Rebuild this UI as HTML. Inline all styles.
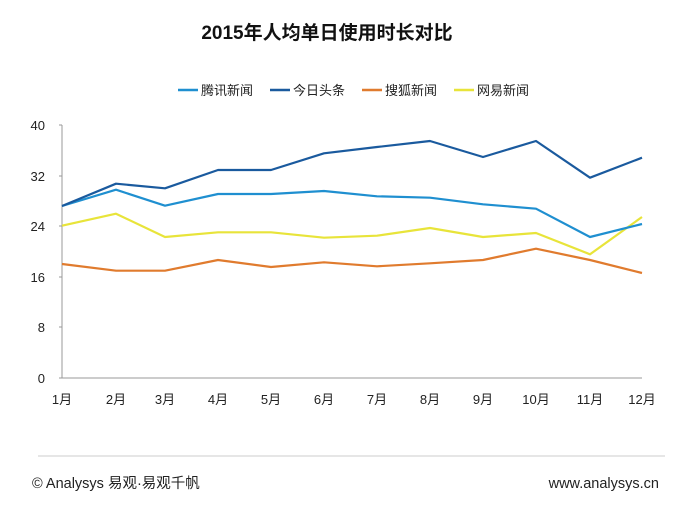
<!DOCTYPE html>
<html><head><meta charset="utf-8"><style>
body{margin:0;background:#fff;}
svg text{font-family:"Liberation Sans","Noto Sans CJK SC",sans-serif;}
</style></head><body>
<svg width="700" height="525" viewBox="0 0 700 525" xmlns="http://www.w3.org/2000/svg">
<rect width="700" height="525" fill="#fff"/>
<text x="327" y="39" text-anchor="middle" font-size="19" font-weight="bold" fill="#111">2015年人均单日使用时长对比</text>
<g font-size="13" fill="#222">
<line x1="178" y1="90" x2="198" y2="90" stroke="#1f8fd0" stroke-width="2.5"/><text x="201" y="95">腾讯新闻</text>
<line x1="270" y1="90" x2="290" y2="90" stroke="#1a5a9e" stroke-width="2.5"/><text x="293" y="95">今日头条</text>
<line x1="362" y1="90" x2="382" y2="90" stroke="#e07b2e" stroke-width="2.5"/><text x="385" y="95">搜狐新闻</text>
<line x1="454" y1="90" x2="474" y2="90" stroke="#e8e43a" stroke-width="2.5"/><text x="477" y="95">网易新闻</text>
</g>
<g stroke="#999" stroke-width="1">
<line x1="62" y1="125" x2="62" y2="378"/>
<line x1="62" y1="378" x2="642" y2="378"/>
<line x1="59" y1="125" x2="62" y2="125"/><line x1="59" y1="176" x2="62" y2="176"/><line x1="59" y1="226" x2="62" y2="226"/><line x1="59" y1="277" x2="62" y2="277"/><line x1="59" y1="327" x2="62" y2="327"/><line x1="59" y1="378" x2="62" y2="378"/>
</g>
<g font-size="13" fill="#222" text-anchor="end">
<text x="45" y="130">40</text><text x="45" y="181">32</text><text x="45" y="231">24</text><text x="45" y="282">16</text><text x="45" y="332">8</text><text x="45" y="383">0</text>
</g>
<g font-size="13" fill="#222" text-anchor="middle">
<text x="62" y="404">1月</text><text x="116" y="404">2月</text><text x="165" y="404">3月</text><text x="218" y="404">4月</text><text x="271" y="404">5月</text><text x="324" y="404">6月</text><text x="377" y="404">7月</text><text x="430" y="404">8月</text><text x="483" y="404">9月</text><text x="536" y="404">10月</text><text x="590" y="404">11月</text><text x="642" y="404">12月</text>
</g>
<g fill="none" stroke-width="2.2" stroke-linejoin="round">
<polyline stroke="#e07b2e" points="62,264 116,270.7 165,270.7 218,260 271,267 324,262.3 377,266.3 430,263.3 483,260 536,248.7 590,260 642,273"/>
<polyline stroke="#e8e43a" points="62,225.7 116,213.7 165,237 218,232.3 271,232.3 324,237.7 377,235.7 430,228 483,237 536,233 590,254.3 642,217"/>
<polyline stroke="#1f8fd0" points="62,206 116,189.7 165,205.7 218,194 271,194 324,191 377,196.3 430,197.7 483,204.3 536,208.7 590,237 642,224"/>
<polyline stroke="#1a5a9e" points="62,206 116,183.7 165,188.3 218,170 271,170 324,153.3 377,147 430,141 483,157 536,141 590,177.7 642,157.7"/>
</g>
<line x1="38" y1="456" x2="665" y2="456" stroke="#ccc" stroke-width="1"/>
<text x="32" y="488" font-size="14.5" fill="#222">© Analysys 易观·易观千帆</text>
<text x="659" y="488" font-size="14.5" fill="#222" text-anchor="end">www.analysys.cn</text>
</svg>
</body></html>
